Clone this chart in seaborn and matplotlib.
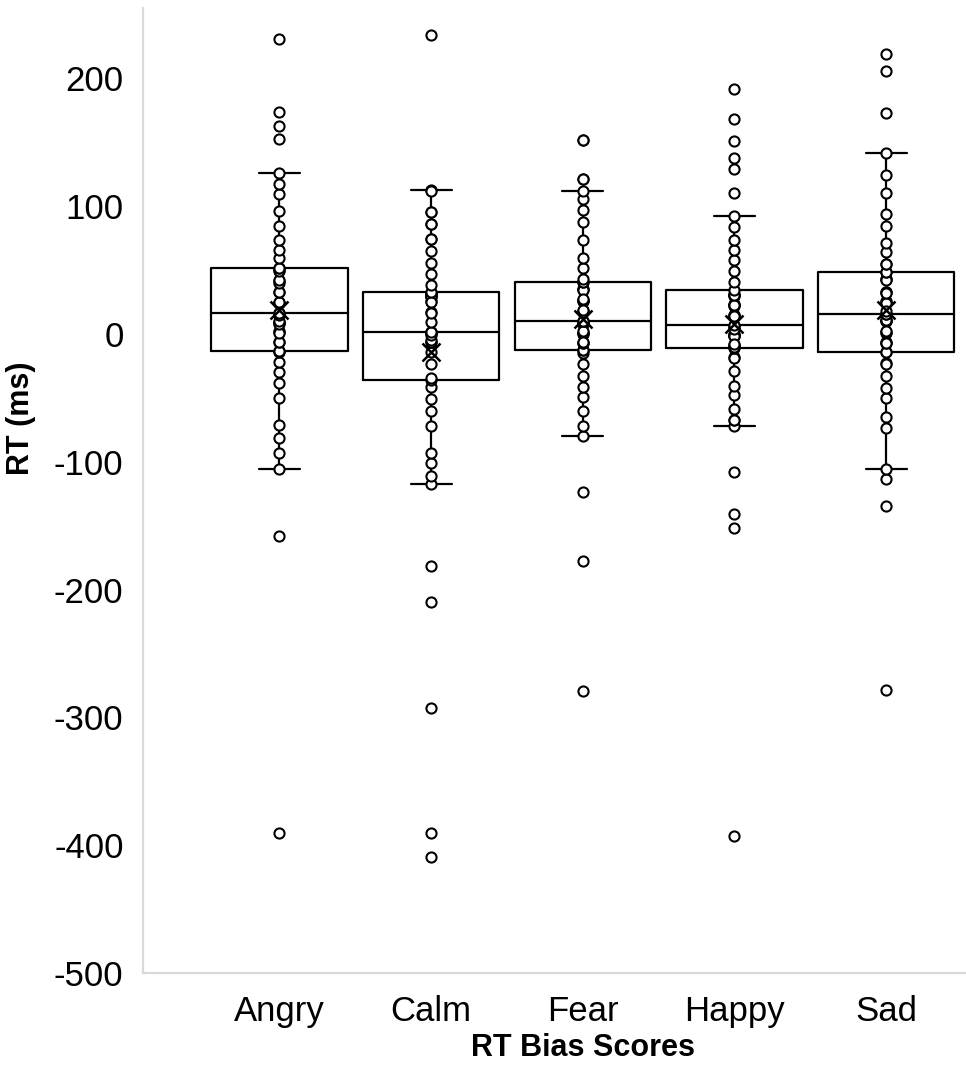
import matplotlib
matplotlib.use("Agg")
import matplotlib.pyplot as plt
import seaborn as sns
import pandas as pd

categories = ["Angry", "Calm", "Fear", "Happy", "Sad"]

angry = [-390.3, -157.9, -106, -93, -81.8, -70.9, -49.8, -38.3, -29.7, -21.9, -14,
         -13.3, -13.3,
         -6.7, -6, 1.6, 2, 1, 8.6, 9, 8, 10, 15,
         16, 16,
         24.3, 24, 25, 32.8, 33, 41.2, 40, 42, 50.3, 49,
         51.9, 51.9,
         59, 66, 73.3, 84.2, 95.9, 109.8, 117.6, 125.9, 152.8, 163, 173.6, 231]

calm = [-409.1, -390.4, -292.7, -209.8, -181.6, -117.8, -111.3, -100.8, -93, -72.2,
        -60.4, -51.1, -41.9,
        -36.2,
        -34.4, -23.9, -14, -6.3, -6, -5, 1.1, 1, 1.5, 1.2, 0.5, -1,
        1.6,
        9.4, 17.2, 16.7, 26, 29.7, 30, 31, 31, 32, 32, 29, 25,
        32.4,
        38.6, 46.7, 55.8, 64.7, 74.6, 74, 85.8, 86, 95.4, 95, 112.4, 112, 233.5]

fear = [-279.3, -177.7, -123.5, -80, -72.2, -60.2, -49.2, -41.9, -33.1, -23.9, -14.8,
        -12.2, -12.2,
        -7, -7.5, 0.8, 0.3, 1, 8.6, 9, 8, -6, 2,
        10.2, 10.2,
        18, 17.5, 26.3, 26, 25.5, 34.9, 35, 34, 18.5, 27,
        40.4, 40.4,
        42.8, 51.6, 59.7, 73.8, 87.3, 97.3, 105.9, 111.6, 121.5, 121.5, 152, 152]

happy = [-392.7, -151.7, -141.2, -108.4, -71.9, -67.5, -67, -59.1, -47.9, -40.9,
         -29.2, -18, -18.5,
         -11.4,
         -9.6, -9, -10, -1, -1.5, -0.5, 0, 5, 6, -2, -8, 4,
         6.8,
         14.6, 14, 15, 22.4, 23.2, 22, 30.3, 30, 31, 14.2, 23, 30.8,
         34.7,
         40.7, 49, 57.6, 66, 73.3, 83.7, 92.3, 110.6, 129.3, 137.9, 150.7, 168.4, 191.9]

sad = [-278.7, -134.7, -113.8, -106, -74, -64.9, -50.5, -42.7, -33.1, -23.1, -23.5,
       -14, -14,
       10.7, 10.2, 1.6, -7, 1, -6.5, 10, 2, -7.5, 11,
       15.9, 15.9,
       43.3, 32.8, 25, 25.5, 33, 43, 24.5, 32, 42.5, 18,
       48.5, 48.5,
       54.3, 54.8, 64.1, 71.5, 84.4, 94.1, 110.6, 124.6, 141.8, 173.1, 205.4, 218.7]

y_ticks = [-500, -400, -300, -200, -100, 0, 100, 200]

series = [angry, calm, fear, happy, sad]
df = pd.DataFrame({
    "Emotion": [c for c, vals in zip(categories, series) for _ in vals],
    "RT": [v for vals in series for v in vals],
})

sns.set_theme(style="white")
plt.rcParams["font.family"] = ["Liberation Sans", "DejaVu Sans"]

fig = plt.figure(figsize=(9.66, 10.74), dpi=100)
ax = fig.add_axes([0.148, 0.094, 0.851, 0.8986])

line_kw = dict(color="black", linewidth=1.6)
sns.boxplot(
    data=df, x="Emotion", y="RT", order=categories, ax=ax,
    width=0.9, whis=1.5, showfliers=False, fill=False, color="black",
    linewidth=1.6, showmeans=True, capwidths=0.27,
    boxprops=dict(color="black", linewidth=1.6),
    whiskerprops=line_kw, capprops=line_kw, medianprops=line_kw,
    meanprops=dict(marker="x", markeredgecolor="black", markersize=13,
                   markeredgewidth=1.8, zorder=6),
)
sns.stripplot(
    data=df, x="Emotion", y="RT", order=categories, ax=ax,
    jitter=False, marker="o", size=7.3, color="white",
    edgecolor="black", linewidth=1.5, zorder=4,
)

ax.set_ylim(-500, 255)
ax.set_xlim(-0.9, 4.52)
ax.set_yticks(y_ticks)
ax.set_yticklabels([str(t) for t in y_ticks])
ax.tick_params(axis="both", length=0, labelsize=25, colors="black")
ax.tick_params(axis="y", pad=14)
ax.tick_params(axis="x", pad=16)

for side in ["top", "right"]:
    ax.spines[side].set_visible(False)
for side in ["left", "bottom"]:
    ax.spines[side].set_color("#d9d9d9")
    ax.spines[side].set_linewidth(1.6)

ax.set_ylabel("RT (ms)", fontsize=22, fontweight="bold", color="black")
ax.set_xlabel("RT Bias Scores", fontsize=22, fontweight="bold", color="black")
ax.yaxis.set_label_coords(-0.130, 0.575)
ax.xaxis.set_label_coords(0.535, -0.062)
ax.grid(False)

fig.savefig("out.png", dpi=100, facecolor="white")
